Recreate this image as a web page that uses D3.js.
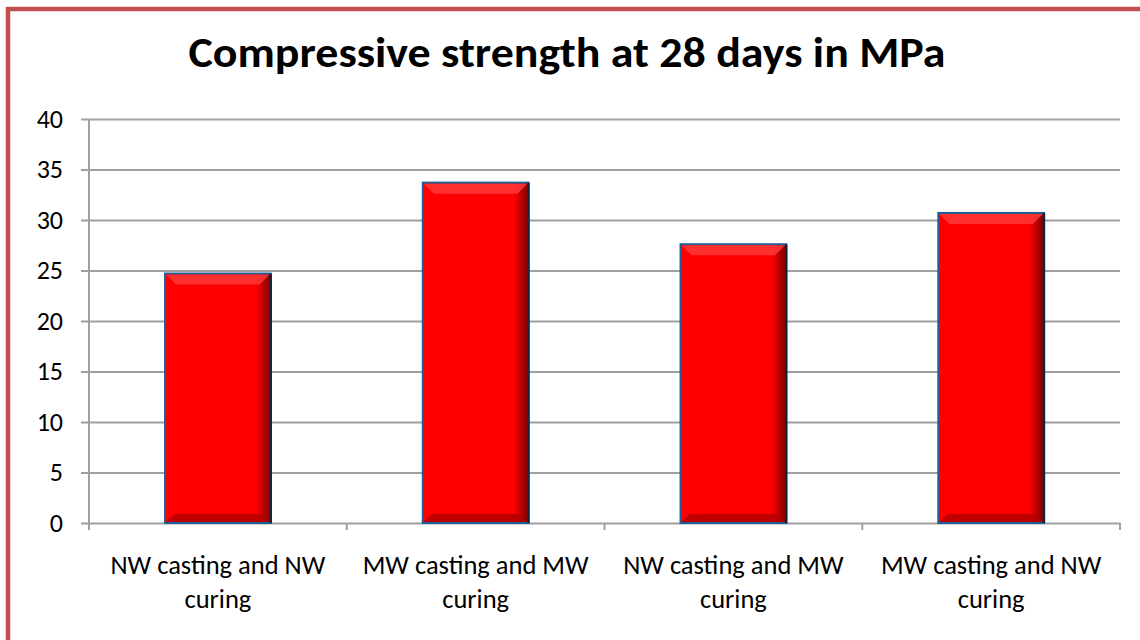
<!DOCTYPE html>
<html>
<head>
<meta charset="utf-8">
<script src="https://cdn.jsdelivr.net/npm/d3@7"></script>
<style>
  body { margin: 0; background: #fff; }
  svg { display: block; font-family: Carlito, Lato, "Open Sans", sans-serif; }
</style>
</head>
<body>
<svg id="chart"></svg>
<script>
// chart data
const categories = [
  ['NW casting and NW', 'curing'],
  ['MW casting and MW', 'curing'],
  ['NW casting and MW', 'curing'],
  ['MW casting and NW', 'curing']
];
const values = [24.7, 33.7, 27.6, 30.7];
const yTicks = [0, 5, 10, 15, 20, 25, 30, 35, 40];
const title = 'Compressive strength at 28 days in MPa';

const W = 1140, H = 640;
const margin = { top: 119, right: 20, bottom: 117, left: 89 };
const width = W - margin.left - margin.right;
const height = H - margin.top - margin.bottom;

const svg = d3.select('#chart').attr('width', W).attr('height', H);

// outer frame (right/bottom edges fall outside the picture)
svg.append('path')
  .attr('d', `M8,${H + 10} L8,9 L${W + 10},9`)
  .attr('fill', 'none')
  .attr('stroke', '#c0504d')
  .attr('stroke-width', 4.5);

svg.append('text')
  .attr('x', 567)
  .attr('y', 67)
  .attr('text-anchor', 'middle')
  .attr('textLength', 757)
  .attr('lengthAdjust', 'spacingAndGlyphs')
  .style('font-size', '42px')
  .style('font-weight', 'bold')
  .text(title);

const g = svg.append('g').attr('transform', `translate(${margin.left},${margin.top})`);

const x = d3.scaleBand().domain(d3.range(categories.length)).range([0, width]).paddingInner(0.59).paddingOuter(0.295);
const xOuter = d3.scaleBand().domain(d3.range(categories.length)).range([0, width]);
const y = d3.scaleLinear().domain([0, 40]).range([height, 0]);

// gridlines + y labels
g.append('g')
  .call(d3.axisLeft(y).tickValues(yTicks).tickSize(-width - 8).tickPadding(26).tickFormat(d3.format('d')))
  .call(a => a.select('.domain').remove())
  .call(a => a.selectAll('.tick line').attr('x1', -8).attr('x2', width).attr('stroke', '#a0a0a0').attr('stroke-width', 2))
  .call(a => a.selectAll('.tick text').style('font-size', '26px').style('font-family', 'Carlito, Lato, sans-serif').attr('fill', '#000'));

// y axis line
g.append('line')
  .attr('x1', 0).attr('x2', 0).attr('y1', 0).attr('y2', height + 1)
  .attr('stroke', '#a0a0a0').attr('stroke-width', 2);

// x category ticks
g.selectAll('.xtick')
  .data(d3.range(categories.length + 1))
  .join('line')
  .attr('x1', i => i < categories.length ? xOuter(i) : width)
  .attr('x2', i => i < categories.length ? xOuter(i) : width)
  .attr('y1', height)
  .attr('y2', height + 7)
  .attr('stroke', '#a0a0a0').attr('stroke-width', 2);

// gradients for bevel look
const defs = svg.append('defs');
const gh = defs.append('linearGradient').attr('id', 'gh');
gh.append('stop').attr('offset', '0%').attr('stop-color', '#ff0000');
gh.append('stop').attr('offset', '86%').attr('stop-color', '#ff0000');
gh.append('stop').attr('offset', '100%').attr('stop-color', '#7a0000');

// bars
const bars = g.selectAll('.bar').data(values).join('g');
bars.append('rect')
  .attr('x', (d, i) => x(i))
  .attr('y', d => y(d))
  .attr('width', x.bandwidth())
  .attr('height', d => height - y(d))
  .attr('fill', 'url(#gh)')
  .attr('stroke', '#1f5f97')
  .attr('stroke-width', 2);

// bevel: top highlight
bars.append('path')
  .attr('d', (d, i) => {
    const x0 = x(i) + 1, x1 = x(i) + x.bandwidth() - 1, y0 = y(d) + 1, b = 10;
    return `M${x0},${y0} L${x1},${y0} L${x1 - b},${y0 + b} L${x0 + b},${y0 + b} Z`;
  })
  .attr('fill', '#ff3b3b').attr('opacity', 0.8);

// bevel: bottom shadow
bars.append('path')
  .attr('d', (d, i) => {
    const x0 = x(i) + 1, x1 = x(i) + x.bandwidth() - 1, y1 = height - 1, b = 8;
    return `M${x0},${y1} L${x1},${y1} L${x1 - b},${y1 - b} L${x0 + b},${y1 - b} Z`;
  })
  .attr('fill', '#b00000').attr('opacity', 0.8);

// right dark edge
bars.append('line')
  .attr('x1', (d, i) => x(i) + x.bandwidth())
  .attr('x2', (d, i) => x(i) + x.bandwidth())
  .attr('y1', d => y(d))
  .attr('y2', height)
  .attr('stroke', '#14253a').attr('stroke-width', 2.5);

// category labels
const labels = g.selectAll('.xlabel').data(categories).join('text')
  .attr('text-anchor', 'middle')
  .attr('transform', (d, i) => `translate(${xOuter(i) + xOuter.bandwidth() / 2},${height + 51})`)
  .style('font-size', '26.5px');
labels.selectAll('tspan').data(d => d).join('tspan')
  .attr('x', 0)
  .attr('dy', (d, j) => j === 0 ? 0 : 34)
  .text(d => d);
</script>
</body>
</html>
